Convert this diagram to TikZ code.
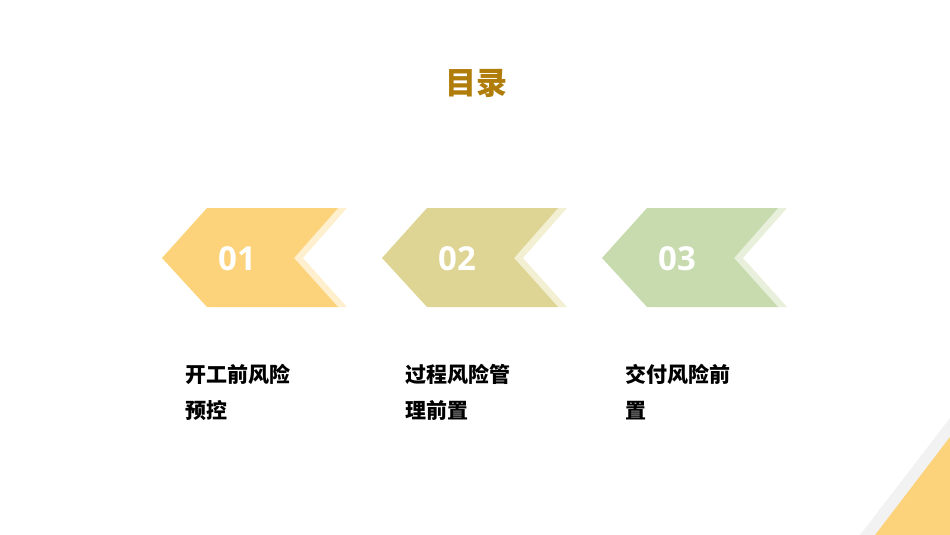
\documentclass[tikz,border=0pt]{standalone}
\usepackage{fontspec}
\setmainfont{Open Sans}
\newfontfamily\cjk{Noto Sans CJK SC}
\begin{document}
\begin{tikzpicture}[x=1pt,y=-1pt,
  num/.style={text=white,font=\fontsize{33}{33}\selectfont\bfseries},
  lbl/.style={anchor=north west,align=left,font=\cjk\fontsize{21}{36}\selectfont\bfseries,inner sep=0pt}]
\useasboundingbox (0,0) rectangle (950,535);
\definecolor{yA}{HTML}{FCD37B}\definecolor{yAl}{HTML}{FEF0CF}
\definecolor{yB}{HTML}{DED594}\definecolor{yBl}{HTML}{F3EFD2}
\definecolor{yC}{HTML}{C7DBAE}\definecolor{yCl}{HTML}{E8F0DC}
\definecolor{ttl}{HTML}{B07C0A}
\node[text=ttl,font=\cjk\fontsize{31}{31}\selectfont\bfseries] (title) at (476,83) {目录};
\foreach \dx/\c/\n/\t in {0/yA/01/{开工前风险\\预控},220/yB/02/{过程风险管\\理前置},440/yC/03/{交付风险前\\置}}{
  \fill[\c l] (216+\dx,208) -- (347+\dx,208) -- (303+\dx,258) -- (347+\dx,307) -- (216+\dx,307) -- (171+\dx,258) -- cycle;
  \fill[\c] (207+\dx,208) -- (338+\dx,208) -- (294+\dx,258) -- (338+\dx,307) -- (207+\dx,307) -- (162+\dx,258) -- cycle;
  \node[num] (n\n) at (237+\dx,259) {\n};
  \node[lbl] (l\n) at (185+\dx,364) {\t};
}
\fill[black!5] (860,535) -- (950,418) -- (950,535) -- cycle;
\fill[yA] (875,535) -- (950,437) -- (950,535) -- cycle;
\end{tikzpicture}
\end{document}
